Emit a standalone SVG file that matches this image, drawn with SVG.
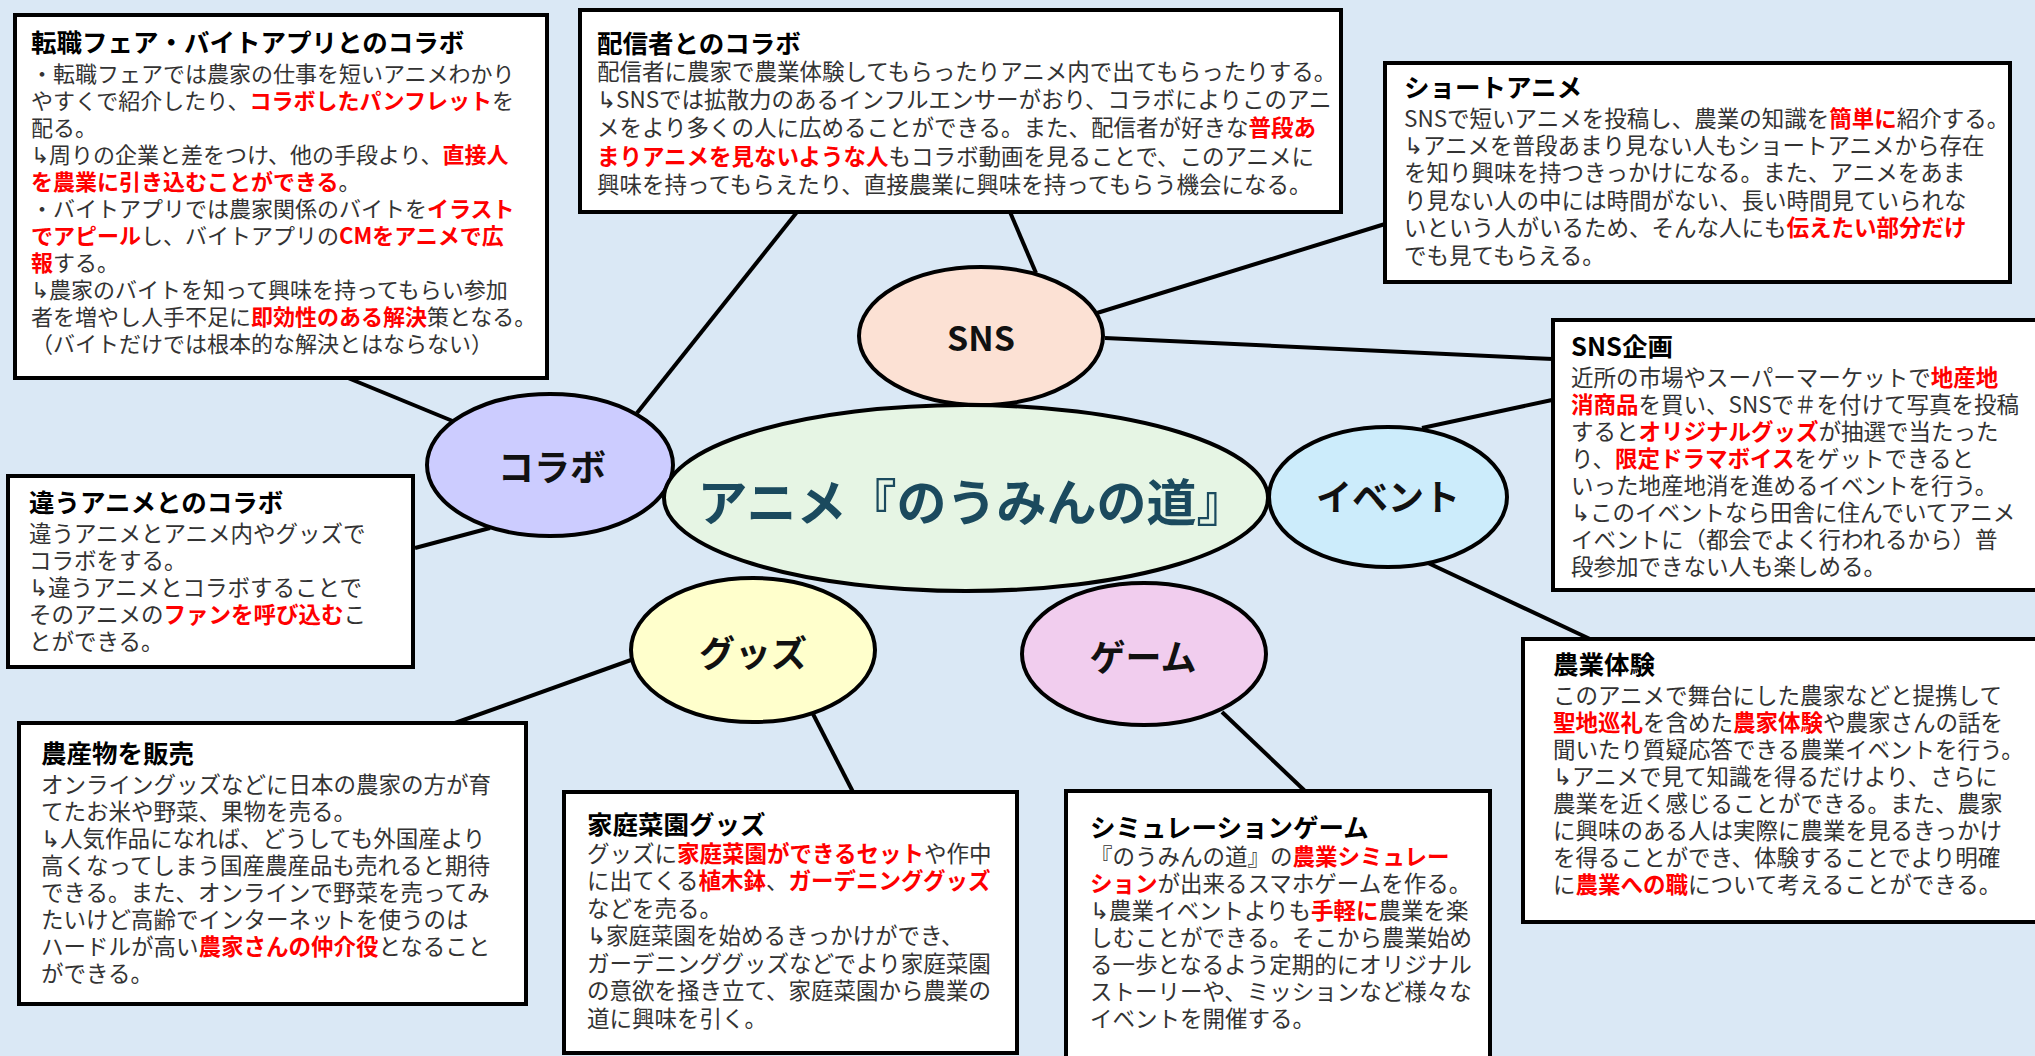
<svg xmlns="http://www.w3.org/2000/svg" width="2035" height="1056" viewBox="0 0 2035 1056">
<style>
text{font-family:"Noto Sans CJK JP","Noto Sans",sans-serif}
.box{fill:#fff;stroke:#000;stroke-width:4}
.t{font-size:25.5px;font-weight:700;fill:#000}
.b{font-size:22.5px;fill:#333}
.b1{font-size:22px;fill:#333}
.r{fill:#ff0000;font-weight:700}
.con line{stroke:#000;stroke-width:4}
.node ellipse{stroke:#000;stroke-width:4}
.nl{font-size:36px;font-weight:700;fill:#111;text-anchor:middle}
</style>
<rect width="2035" height="1056" fill="#dae8f5"/>
<g id="connectors" class="con">
<line x1="348" y1="378" x2="455" y2="422"/>
<line x1="637" y1="413" x2="797" y2="212"/>
<line x1="490" y1="528" x2="415" y2="548"/>
<line x1="1010" y1="212" x2="1036" y2="273"/>
<line x1="1097" y1="313" x2="1385" y2="224"/>
<line x1="1105" y1="338" x2="1553" y2="359"/>
<line x1="1422" y1="428" x2="1552" y2="400"/>
<line x1="1428" y1="563" x2="1590" y2="639"/>
<line x1="631" y1="660" x2="455" y2="723"/>
<line x1="812" y1="712" x2="853" y2="792"/>
<line x1="1222" y1="712" x2="1305" y2="791"/>
</g>
<g id="node-sns" class="node"><ellipse cx="981" cy="336" rx="122" ry="69" fill="#fce1d4"/><text class="nl" x="981" y="351" style="font-size:34px">SNS</text></g>
<g id="node-collab" class="node"><ellipse cx="550" cy="465" rx="123" ry="71" fill="#ccccff"/><text class="nl" x="552" y="481">コラボ</text></g>
<g id="node-goods" class="node"><ellipse cx="753" cy="650" rx="122" ry="72" fill="#ffffcc"/><text class="nl" x="753" y="667">グッズ</text></g>
<g id="node-game" class="node"><ellipse cx="1144" cy="654" rx="122" ry="71" fill="#f1cdee"/><text class="nl" x="1143" y="671">ゲーム</text></g>
<g id="node-event" class="node"><ellipse cx="1388" cy="497" rx="119" ry="70" fill="#ccecfb"/><text class="nl" x="1388" y="511">イベント</text></g>
<g id="node-center" class="node"><ellipse cx="966" cy="498" rx="302" ry="93" fill="#e6f5e4"/><text x="972" y="521" style="font-size:50px;font-weight:700;fill:#1b4a5e;text-anchor:middle">アニメ『のうみんの道』</text></g>
<g id="box-jobfair">
<rect class="box" x="15" y="15" width="532" height="363"/>
<text class="t" x="31" y="52">転職フェア・バイトアプリとのコラボ</text>
<text class="b1" x="31" y="82">・転職フェアでは農家の仕事を短いアニメわかり</text>
<text class="b1" x="31" y="109">やすくで紹介したり、<tspan class="r">コラボしたパンフレット</tspan>を</text>
<text class="b1" x="31" y="136">配る。</text>
<text class="b1" x="31" y="163">↳周りの企業と差をつけ、他の手段より、<tspan class="r">直接人</tspan></text>
<text class="b1" x="31" y="190"><tspan class="r">を農業に引き込むことができる</tspan>。</text>
<text class="b1" x="31" y="217">・バイトアプリでは農家関係のバイトを<tspan class="r">イラスト</tspan></text>
<text class="b1" x="31" y="244"><tspan class="r">でアピール</tspan>し、バイトアプリの<tspan class="r">CMをアニメで広</tspan></text>
<text class="b1" x="31" y="271"><tspan class="r">報</tspan>する。</text>
<text class="b1" x="31" y="298">↳農家のバイトを知って興味を持ってもらい参加</text>
<text class="b1" x="31" y="325">者を増やし人手不足に<tspan class="r">即効性のある解決</tspan>策となる。</text>
<text class="b1" x="31" y="352">（バイトだけでは根本的な解決とはならない）</text>
</g>
<g id="box-streamer">
<rect class="box" x="580" y="10" width="761" height="202"/>
<text class="t" x="597" y="53">配信者とのコラボ</text>
<text class="b" x="597" y="80">配信者に農家で農業体験してもらったりアニメ内で出てもらったりする。</text>
<text class="b" x="597" y="108">↳SNSでは拡散力のあるインフルエンサーがおり、コラボによりこのアニ</text>
<text class="b" x="597" y="136">メをより多くの人に広めることができる。また、配信者が好きな<tspan class="r">普段あ</tspan></text>
<text class="b" x="597" y="165"><tspan class="r">まりアニメを見ないような人</tspan>もコラボ動画を見ることで、このアニメに</text>
<text class="b" x="597" y="193">興味を持ってもらえたり、直接農業に興味を持ってもらう機会になる。</text>
</g>
<g id="box-short">
<rect class="box" x="1385" y="63" width="625" height="219"/>
<text class="t" x="1404" y="97">ショートアニメ</text>
<text class="b" x="1404" y="127">SNSで短いアニメを投稿し、農業の知識を<tspan class="r">簡単に</tspan>紹介する。</text>
<text class="b" x="1404" y="154">↳アニメを普段あまり見ない人もショートアニメから存在</text>
<text class="b" x="1404" y="181">を知り興味を持つきっかけになる。また、アニメをあま</text>
<text class="b" x="1404" y="209">り見ない人の中には時間がない、長い時間見ていられな</text>
<text class="b" x="1404" y="236">いという人がいるため、そんな人にも<tspan class="r">伝えたい部分だけ</tspan></text>
<text class="b" x="1404" y="264">でも見てもらえる。</text>
</g>
<g id="box-snsplan">
<rect class="box" x="1553" y="320" width="490" height="270"/>
<text class="t" x="1571" y="356">SNS企画</text>
<text class="b" x="1571" y="386">近所の市場やスーパーマーケットで<tspan class="r">地産地</tspan></text>
<text class="b" x="1571" y="413"><tspan class="r">消商品</tspan>を買い、SNSで＃を付けて写真を投稿</text>
<text class="b" x="1571" y="440">すると<tspan class="r">オリジナルグッズ</tspan>が抽選で当たった</text>
<text class="b" x="1571" y="467">り、<tspan class="r">限定ドラマボイス</tspan>をゲットできると</text>
<text class="b" x="1571" y="494">いった地産地消を進めるイベントを行う。</text>
<text class="b" x="1571" y="521">↳このイベントなら田舎に住んでいてアニメ</text>
<text class="b" x="1571" y="548">イベントに（都会でよく行われるから）普</text>
<text class="b" x="1571" y="575">段参加できない人も楽しめる。</text>
</g>
<g id="box-farm">
<rect class="box" x="1523" y="639" width="520" height="283"/>
<text class="t" x="1553" y="674">農業体験</text>
<text class="b" x="1553" y="704">このアニメで舞台にした農家などと提携して</text>
<text class="b" x="1553" y="731"><tspan class="r">聖地巡礼</tspan>を含めた<tspan class="r">農家体験</tspan>や農家さんの話を</text>
<text class="b" x="1553" y="758">聞いたり質疑応答できる農業イベントを行う。</text>
<text class="b" x="1553" y="785">↳アニメで見て知識を得るだけより、さらに</text>
<text class="b" x="1553" y="812">農業を近く感じることができる。また、農家</text>
<text class="b" x="1553" y="839">に興味のある人は実際に農業を見るきっかけ</text>
<text class="b" x="1553" y="866">を得ることができ、体験することでより明確</text>
<text class="b" x="1553" y="893">に<tspan class="r">農業への職</tspan>について考えることができる。</text>
</g>
<g id="box-sim">
<rect class="box" x="1066" y="791" width="424" height="272"/>
<text class="t" x="1090" y="837">シミュレーションゲーム</text>
<text class="b" x="1090" y="865">『のうみんの道』の<tspan class="r">農業シミュレー</tspan></text>
<text class="b" x="1090" y="892"><tspan class="r">ション</tspan>が出来るスマホゲームを作る。</text>
<text class="b" x="1090" y="919">↳農業イベントよりも<tspan class="r">手軽に</tspan>農業を楽</text>
<text class="b" x="1090" y="946">しむことができる。そこから農業始め</text>
<text class="b" x="1090" y="973">る一歩となるよう定期的にオリジナル</text>
<text class="b" x="1090" y="1000">ストーリーや、ミッションなど様々な</text>
<text class="b" x="1090" y="1027">イベントを開催する。</text>
</g>
<g id="box-garden">
<rect class="box" x="564" y="792" width="453" height="261"/>
<text class="t" x="587" y="834">家庭菜園グッズ</text>
<text class="b" x="587" y="862">グッズに<tspan class="r">家庭菜園ができるセット</tspan>や作中</text>
<text class="b" x="587" y="889">に出てくる<tspan class="r">植木鉢</tspan>、<tspan class="r">ガーデニンググッズ</tspan></text>
<text class="b" x="587" y="917">などを売る。</text>
<text class="b" x="587" y="944">↳家庭菜園を始めるきっかけができ、</text>
<text class="b" x="587" y="972">ガーデニンググッズなどでより家庭菜園</text>
<text class="b" x="587" y="999">の意欲を掻き立て、家庭菜園から農業の</text>
<text class="b" x="587" y="1027">道に興味を引く。</text>
</g>
<g id="box-produce">
<rect class="box" x="19" y="723" width="507" height="281"/>
<text class="t" x="41" y="763">農産物を販売</text>
<text class="b" x="41" y="793">オンライングッズなどに日本の農家の方が育</text>
<text class="b" x="41" y="820">てたお米や野菜、果物を売る。</text>
<text class="b" x="41" y="847">↳人気作品になれば、どうしても外国産より</text>
<text class="b" x="41" y="874">高くなってしまう国産農産品も売れると期待</text>
<text class="b" x="41" y="901">できる。また、オンラインで野菜を売ってみ</text>
<text class="b" x="41" y="928">たいけど高齢でインターネットを使うのは</text>
<text class="b" x="41" y="955">ハードルが高い<tspan class="r">農家さんの仲介役</tspan>となること</text>
<text class="b" x="41" y="982">ができる。</text>
</g>
<g id="box-otheranime">
<rect class="box" x="8" y="476" width="405" height="191"/>
<text class="t" x="29" y="512">違うアニメとのコラボ</text>
<text class="b" x="29" y="542">違うアニメとアニメ内やグッズで</text>
<text class="b" x="29" y="569">コラボをする。</text>
<text class="b" x="29" y="596">↳違うアニメとコラボすることで</text>
<text class="b" x="29" y="623">そのアニメの<tspan class="r">ファンを呼び込む</tspan>こ</text>
<text class="b" x="29" y="650">とができる。</text>
</g>
</svg>
